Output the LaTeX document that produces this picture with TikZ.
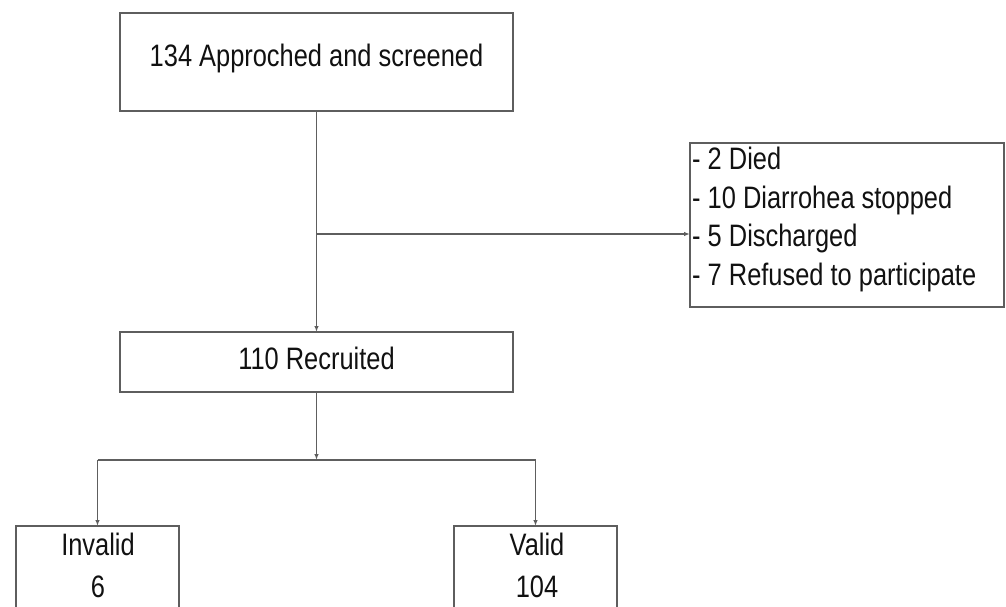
\documentclass[tikz,border=0pt]{standalone}
\usepackage{fontspec}
\setmainfont{Liberation Sans}[FakeStretch=0.82]
\usetikzlibrary{arrows.meta}
\definecolor{boxline}{HTML}{5E5E5E}
\definecolor{txt}{HTML}{111111}
\begin{document}
\begin{tikzpicture}[x=1pt,y=-1pt,
  box/.style={draw=boxline, line width=1.5pt, fill=white, inner sep=0pt, outer sep=0pt},
  lbl/.style={text=txt, font=\fontsize{31}{40}\selectfont, inner sep=0pt},
  conn/.style={draw=boxline, line width=1.2pt},
  arr/.style={conn, -{Latex[length=6pt,width=4.5pt]}}]
\useasboundingbox[fill=white] (0,0) rectangle (1006,606);
\clip (0,0) rectangle (1006,606);
% boxes
\node[box, minimum width=393, minimum height=98] (top) at (316.5,62) {};
\node[lbl] (toptext) at (316.5,58) {134 Approched and screened};
\node[box, minimum width=314, minimum height=164] (side) at (847,225) {};
\node[lbl, anchor=north west, align=left, font=\fontsize{31}{38.5}\selectfont] (sidetext) at (692,147)
  {- 2 Died\\- 10 Diarrohea stopped\\- 5 Discharged\\- 7 Refused to participate};
\node[box, minimum width=393, minimum height=60] (recr) at (316.5,362) {};
\node[lbl] (recrtext) at (316.5,358) {110 Recruited};
\node[box, anchor=north, minimum width=163, minimum height=130] (inv) at (97.5,526) {};
\node[lbl, align=center, font=\fontsize{31}{42}\selectfont] (invtext) at (98,565) {Invalid\\6};
\node[box, anchor=north, minimum width=163, minimum height=130] (val) at (535.5,526) {};
\node[lbl, align=center, font=\fontsize{31}{42}\selectfont] (valtext) at (537,565) {Valid\\104};
% connectors
\coordinate (split) at (316.5,234);
\coordinate (branch) at (316.5,460);
\draw[arr] (top.south) -- (recr.north);
\draw[arr] (split) -- (split -| side.west);
\draw[arr] (recr.south) -- (branch);
\draw[conn] (branch -| inv.north) -- (branch -| val.north);
\draw[arr] (branch -| inv.north) -- (inv.north);
\draw[arr] (branch -| val.north) -- (val.north);
\end{tikzpicture}
\end{document}
